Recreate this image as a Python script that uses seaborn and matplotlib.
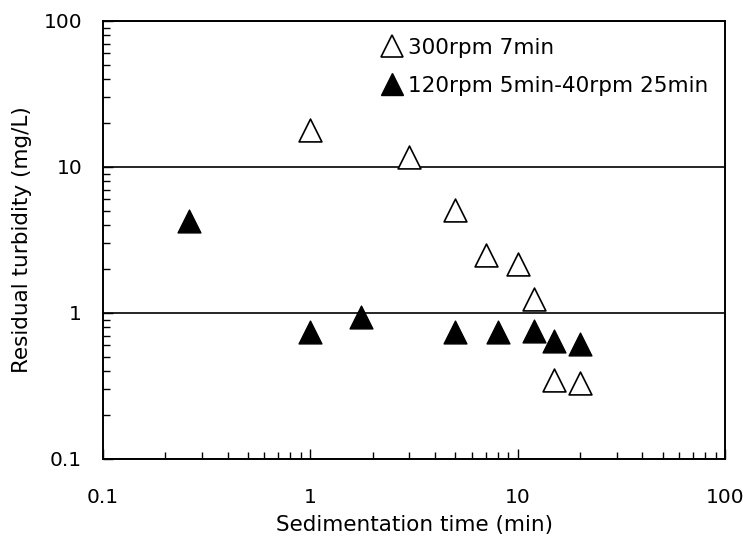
import matplotlib
matplotlib.use("Agg")
import matplotlib.pyplot as plt
import seaborn as sns
import pandas as pd
from matplotlib.lines import Line2D
from matplotlib.ticker import LogLocator, FixedLocator, FixedFormatter, NullFormatter

# ---- data ----
open_label = "300rpm 7min"
open_time = [1, 3, 5, 7, 10, 12, 15, 20]
open_turb = [17.9, 11.7, 5.1, 2.5, 2.17, 1.25, 0.35, 0.33]

filled_label = "120rpm 5min-40rpm 25min"
filled_time = [0.26, 1, 1.75, 5, 8, 12, 15, 20]
filled_turb = [4.3, 0.74, 0.94, 0.74, 0.74, 0.75, 0.64, 0.61]

tick_vals = [0.1, 1, 10, 100]
tick_labels = ["0.1", "1", "10", "100"]
x_label = "Sedimentation time (min)"
y_label = "Residual turbidity (mg/L)"

df_open = pd.DataFrame({"t": open_time, "y": open_turb})
df_filled = pd.DataFrame({"t": filled_time, "y": filled_turb})

sns.set_theme(style="white")
plt.rcParams["font.family"] = ["DejaVu Sans"]
plt.rcParams["text.color"] = "black"
plt.rcParams["axes.labelcolor"] = "black"
plt.rcParams["xtick.color"] = "black"
plt.rcParams["ytick.color"] = "black"

fig = plt.figure(figsize=(7.43, 5.42), dpi=100)
ax = fig.add_axes([103 / 743, 1 - 459 / 542, 622 / 743, 438 / 542])

ax.set_xscale("log")
ax.set_yscale("log")

sns.scatterplot(data=df_open, x="t", y="y", marker="^", s=270,
                facecolor="white", edgecolor="black", linewidth=1.2, ax=ax, zorder=3)
sns.scatterplot(data=df_filled, x="t", y="y", marker="^", s=270,
                color="black", edgecolor="black", linewidth=1.0, ax=ax, zorder=3)

ax.set_xlim(tick_vals[0], tick_vals[-1])
ax.set_ylim(tick_vals[0], tick_vals[-1])

for axis in (ax.xaxis, ax.yaxis):
    axis.set_major_locator(FixedLocator(tick_vals))
    axis.set_major_formatter(FixedFormatter(tick_labels))
    axis.set_minor_locator(LogLocator(base=10, subs=range(2, 10)))
    axis.set_minor_formatter(NullFormatter())

ax.yaxis.grid(True, which="major", color="black", linewidth=1.2)
ax.xaxis.grid(False)

ax.tick_params(axis="both", which="both", direction="in", color="black",
               labelcolor="black", bottom=True, left=True, top=False, right=False)
ax.tick_params(axis="both", which="major", length=7, width=1)
ax.tick_params(axis="both", which="minor", length=5, width=1)
ax.tick_params(axis="y", which="major", pad=15, labelsize=14.5)
ax.tick_params(axis="x", which="major", pad=21, labelsize=14.5)

for sp in ax.spines.values():
    sp.set_color("black")
    sp.set_linewidth(1.4)

ax.set_xlabel(x_label, fontsize=15.5, labelpad=6, color="black")
ax.set_ylabel(y_label, fontsize=15.5, labelpad=8, color="black")

handles = [
    Line2D([], [], marker="^", linestyle="none", markersize=16,
           markerfacecolor="white", markeredgecolor="black", markeredgewidth=1.2),
    Line2D([], [], marker="^", linestyle="none", markersize=16,
           markerfacecolor="black", markeredgecolor="black"),
]
leg = ax.legend(handles, [open_label, filled_label], loc="upper left",
                bbox_to_anchor=(0.447, 0.962), frameon=False, fontsize=15.5,
                handlelength=1.0, handletextpad=0.25, borderpad=0,
                borderaxespad=0, labelspacing=0.85)
for t in leg.get_texts():
    t.set_color("black")

fig.savefig("out.png", dpi=100)
